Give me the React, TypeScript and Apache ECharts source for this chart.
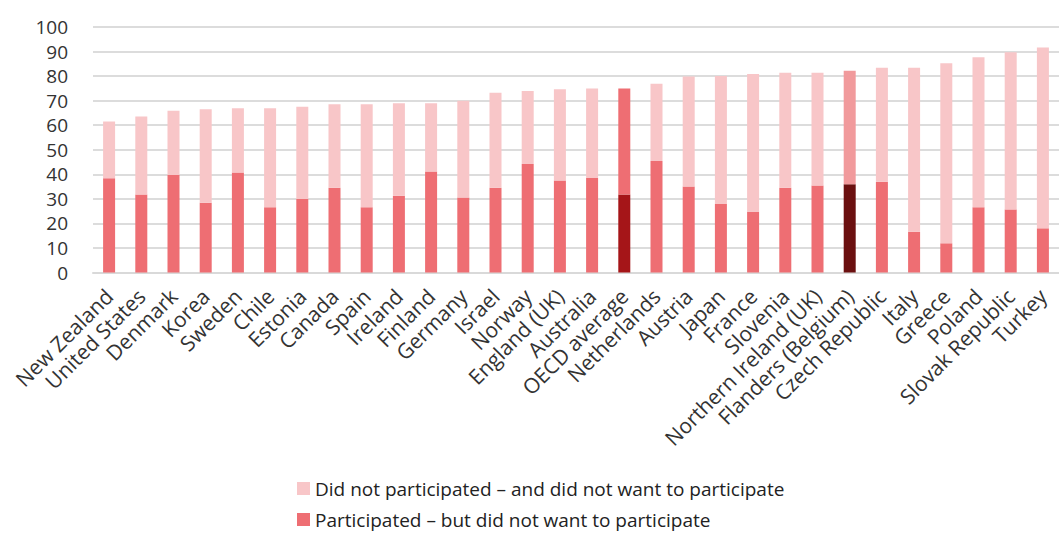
import React, { useEffect, useRef } from "react";
import * as echarts from "echarts";

const categories = [
  "New Zealand", "United States", "Denmark", "Korea", "Sweden", "Chile", "Estonia", "Canada",
  "Spain", "Ireland", "Finland", "Germany", "Israel", "Norway", "England (UK)", "Australia",
  "OECD average", "Netherlands", "Austria", "Japan", "France", "Slovenia", "Northern Ireland (UK)",
  "Flanders (Belgium)", "Czech Republic", "Italy", "Greece", "Poland", "Slovak Republic", "Turkey",
];

const participated = [
  38.4, 31.8, 39.7, 28.4, 40.7, 26.6, 29.9, 34.5,
  26.6, 31.3, 41.1, 30.6, 34.5, 44.2, 37.5, 38.5,
  31.8, 45.4, 35.0, 27.9, 24.8, 34.5, 35.4,
  35.9, 37.0, 16.6, 11.9, 26.6, 25.7, 18.0,
];

const didNot = [
  23.1, 31.7, 26.2, 38.1, 26.2, 40.3, 37.6, 34.0,
  41.9, 37.6, 27.8, 39.4, 38.7, 29.7, 37.1, 36.5,
  43.2, 31.5, 44.8, 52.1, 56.1, 46.9, 46.0,
  46.3, 46.4, 66.8, 73.3, 61.1, 64.0, 73.7,
];

const yTicks = [0, 10, 20, 30, 40, 50, 60, 70, 80, 90, 100];

const seriesNames = [
  "Did not participated \u2013 and did not want to participate",
  "Participated \u2013 but did not want to participate",
];

const LIGHT = "#f8c6c8";
const SALMON = "#ee6e73";
const highlightLower: Record<string, string> = { "OECD average": "#a51518", "Flanders (Belgium)": "#6b1010" };
const highlightUpper: Record<string, string> = { "OECD average": SALMON, "Flanders (Belgium)": "#f19a9c" };

export default function App() {
  const ref = useRef<HTMLDivElement>(null);
  useEffect(() => {
    if (!ref.current) return;
    const chart = echarts.init(ref.current, undefined, { renderer: "svg" });
    const font = "'Open Sans', 'Noto Sans', sans-serif";
    chart.setOption({
      animation: false,
      textStyle: { fontFamily: font },
      grid: { left: 93, top: 27, width: 973, height: 245.5, containLabel: false },
      legend: {
        orient: "vertical",
        left: 292,
        top: 474,
        itemWidth: 13,
        itemHeight: 13,
        itemGap: 12,
        icon: "rect",
        data: seriesNames,
        textStyle: { fontSize: 19, color: "#222", fontFamily: font },
      },
      xAxis: {
        type: "category",
        data: categories,
        axisTick: { show: false },
        axisLine: { lineStyle: { color: "#d9d9d9", width: 2 } },
        axisLabel: { rotate: 45, fontSize: 21, color: "#333", margin: 20, interval: 0, fontFamily: font },
      },
      yAxis: {
        type: "value",
        min: yTicks[0],
        max: yTicks[yTicks.length - 1],
        interval: 10,
        axisLine: { show: false },
        axisTick: { show: false },
        splitLine: { lineStyle: { color: "#dcdcdc", width: 2 } },
        axisLabel: { fontSize: 19, lineHeight: 19, color: "#333", margin: 25, fontFamily: font },
      },
      series: [
        {
          name: seriesNames[1],
          type: "bar",
          stack: "total",
          barWidth: 12,
          itemStyle: { color: SALMON },
          data: participated.map((v, i) => {
            const c = highlightLower[categories[i]];
            return c ? { value: v, itemStyle: { color: c } } : v;
          }),
        },
        {
          name: seriesNames[0],
          type: "bar",
          stack: "total",
          barWidth: 12,
          itemStyle: { color: LIGHT },
          data: didNot.map((v, i) => {
            const c = highlightUpper[categories[i]];
            return c ? { value: v, itemStyle: { color: c } } : v;
          }),
        },
      ],
    });
    return () => chart.dispose();
  }, []);
  return (
    <div
      ref={ref}
      style={{ position: "fixed", left: 0, top: 0, width: 1059, height: 546, background: "#fff", overflow: "hidden" }}
    />
  );
}
